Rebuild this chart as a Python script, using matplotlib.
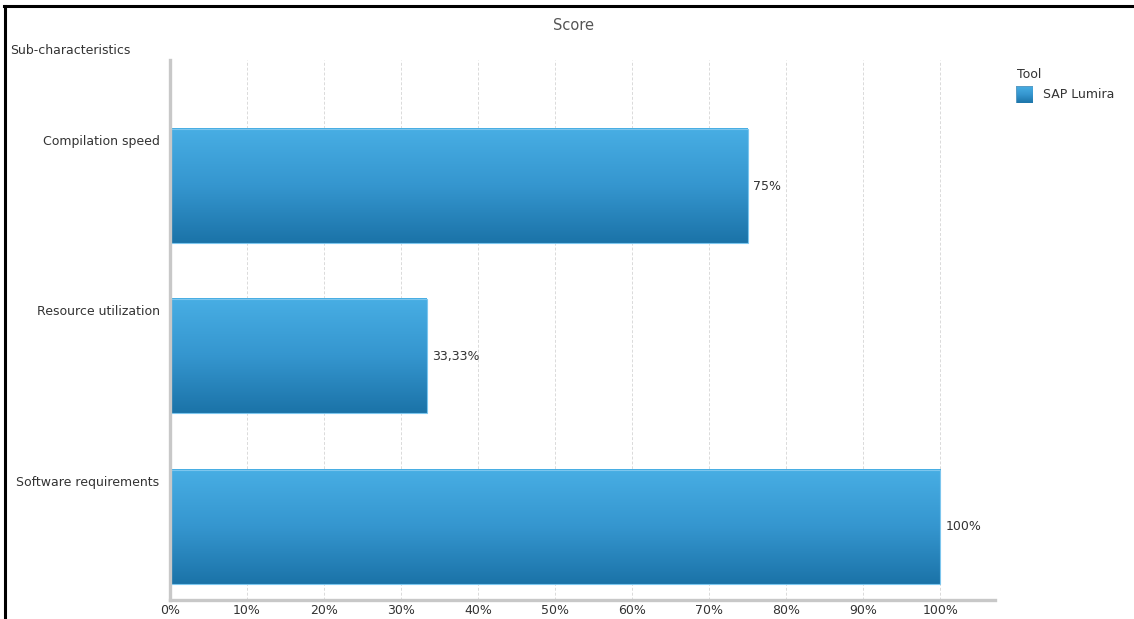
import numpy as np
import matplotlib
matplotlib.use("Agg")
import matplotlib.pyplot as plt
from matplotlib.colors import LinearSegmentedColormap
from matplotlib.lines import Line2D
from matplotlib.patches import Rectangle

# ---- data ----
categories = ["Compilation speed", "Resource utilization", "Software requirements"]
scores = [75, 33.33, 100]
x_ticks = [0, 10, 20, 30, 40, 50, 60, 70, 80, 90, 100]
series_name = "SAP Lumira"
legend_title = "Tool"
axis_title = "Sub-characteristics"
chart_title = "Score"

W, H, DPI = 1134, 619, 100
plt.rcParams["font.family"] = ["DejaVu Sans"]

fig = plt.figure(figsize=(W / DPI, H / DPI), dpi=DPI)
fig.patch.set_facecolor("white")

def px_x(x):
    return x / W

def px_y(y):
    return 1 - y / H

ax = fig.add_axes([px_x(170), px_y(600), px_x(995) - px_x(170), px_y(60) - px_y(600)])
ax.set_facecolor("white")

bar_h = 0.67
grad = LinearSegmentedColormap.from_list("bar", ["#48aee4", "#3596cf", "#1b73a8"])
gimg = np.linspace(0, 1, 256).reshape(-1, 1)

for i, v in enumerate(scores):
    ax.imshow(gimg, cmap=grad, aspect="auto", interpolation="bilinear",
              extent=[0, v, i + bar_h / 2, i - bar_h / 2], zorder=2)
    ax.add_patch(Rectangle((0, i - bar_h / 2), v, bar_h, facecolor="none",
                           edgecolor="#7cc6ee", linewidth=0.8, zorder=3))
    label = ("%.2f" % v).rstrip("0").rstrip(".").replace(".", ",") + "%"
    ax.annotate(label, (v, i), xytext=(4, 0), textcoords="offset points",
                ha="left", va="center", fontsize=9, color="#333333", zorder=4)

ax.set_xlim(0, 107.1)
ax.set_ylim(2.43, -0.74)

# gridlines
for t in x_ticks[1:]:
    ax.axvline(t, color="#dadada", linestyle=(0, (3, 2)), linewidth=0.7, zorder=1)

ax.set_xticks(x_ticks)
ax.set_xticklabels([f"{t}%" for t in x_ticks])
ax.tick_params(axis="x", length=0, pad=3, labelsize=9, labelcolor="#333333")

# category labels sit near the top edge of each bar
ax.set_yticks([i - 0.27 for i in range(len(categories))])
ax.set_yticklabels(categories)
ax.tick_params(axis="y", length=0, pad=7.5, labelsize=9, labelcolor="#333333")

for s in ["top", "right"]:
    ax.spines[s].set_visible(False)
for s in ["left", "bottom"]:
    ax.spines[s].set_color("#c8c8c8")
    ax.spines[s].set_linewidth(2.4)
    ax.spines[s].set_zorder(5)

# titles
fig.text(px_x(573), px_y(25), chart_title, ha="center", va="center",
         fontsize=10.5, color="#555555")
fig.text(px_x(10), px_y(50), axis_title, ha="left", va="center",
         fontsize=9, color="#333333")

# legend
fig.text(px_x(1017), px_y(74), legend_title, ha="left", va="center",
         fontsize=9, color="#333333")
lax = fig.add_axes([px_x(1016), px_y(103), px_x(17), px_y(86) - px_y(103)])
lax.imshow(gimg, cmap=grad, aspect="auto", extent=[0, 1, 1, 0])
lax.add_patch(Rectangle((0, 0), 1, 1, facecolor="none", edgecolor="#5a9cc4", linewidth=0.8))
lax.set_xlim(0, 1)
lax.set_ylim(1, 0)
lax.axis("off")
fig.text(px_x(1043), px_y(95), series_name, ha="left", va="center",
         fontsize=9, color="#333333")

# frame lines at top and left
fig.add_artist(Line2D([px_x(4), 1], [px_y(6), px_y(6)], color="black", linewidth=2.2))
fig.add_artist(Line2D([px_x(5), px_x(5)], [0, px_y(6)], color="black", linewidth=2.2))

fig.savefig("out.png", dpi=DPI, facecolor="white")
